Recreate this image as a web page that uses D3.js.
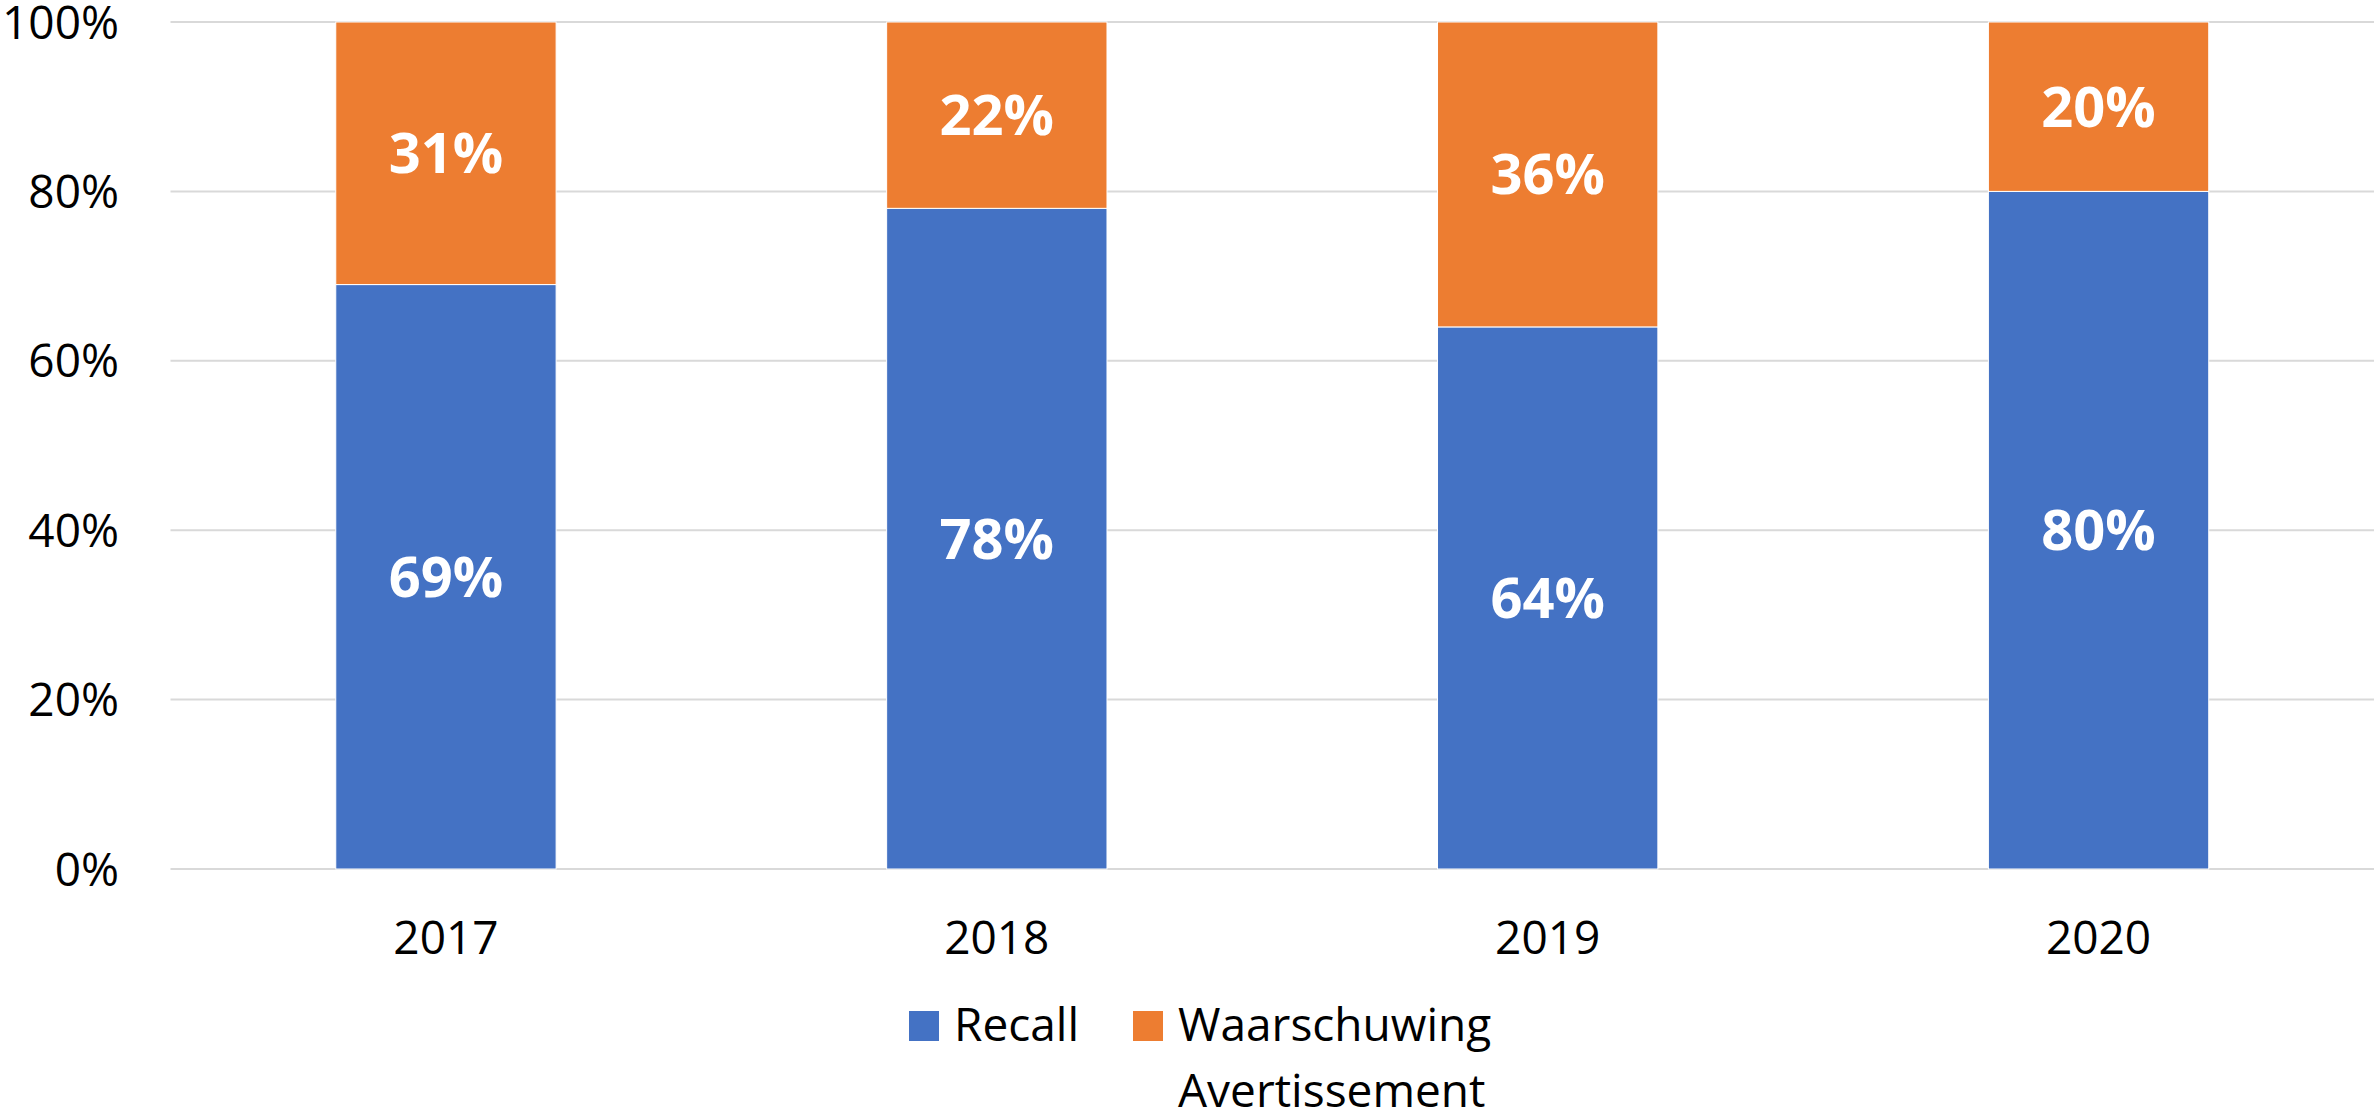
<!DOCTYPE html>
<html>
<head>
<meta charset="utf-8">
<script src="https://cdn.jsdelivr.net/npm/d3@7"></script>
<style>
  body { margin: 0; background: #fff; }
  svg text { font-family: "Open Sans", "Noto Sans", sans-serif; }
</style>
</head>
<body>
<svg id="chart" width="2374" height="1111"></svg>
<script>
// chart data
const years = ["2017", "2018", "2019", "2020"]
const recall = [69, 78, 64, 80]
const waarschuwing = [31, 22, 36, 20]
const yTicks = [0, 20, 40, 60, 80, 100]
const seriesNames = ["Recall", "Waarschuwing"]
const legendLabels = [["Recall"], ["Waarschuwing", "Avertissement"]]
const colors = ["#4472C4", "#ED7D31"]

const width = 2374
const height = 1111
const plotLeft = 170.5
const plotRight = 2374
const plotTop = 22
const plotBottom = 869

const svg = d3.select("#chart")

const x = d3.scaleBand()
    .domain(years)
    .range([plotLeft, plotRight])
    .paddingInner(0.6)
    .paddingOuter(0.3)

const y = d3.scaleLinear()
    .domain([0, 100])
    .range([plotBottom, plotTop])

// gridlines
svg.append("g")
    .selectAll("line")
    .data(yTicks)
    .enter().append("line")
    .attr("x1", plotLeft)
    .attr("x2", plotRight)
    .attr("y1", d => y(d))
    .attr("y2", d => y(d))
    .attr("stroke", "#d9d9d9")
    .attr("stroke-width", 2)

// y axis labels
svg.append("g")
    .selectAll("text")
    .data(yTicks)
    .enter().append("text")
    .attr("x", 119)
    .attr("y", d => y(d) + 16.5)
    .attr("text-anchor", "end")
    .attr("font-size", 46)
    .attr("fill", "#000")
    .text(d => d + "%")

// stack the two series
const rows = years.map((yr, i) => ({year: yr, Recall: recall[i], Waarschuwing: waarschuwing[i]}))
const stacked = d3.stack().keys(seriesNames)(rows)

const layers = svg.append("g")
    .selectAll("g")
    .data(stacked)
    .enter().append("g")
    .attr("fill", (d, i) => colors[i])

layers.selectAll("rect")
    .data(d => d)
    .enter().append("rect")
    .attr("x", d => x(d.data.year))
    .attr("width", x.bandwidth())
    .attr("y", d => y(d[1]))
    .attr("height", d => y(d[0]) - y(d[1]))
    .attr("stroke", "#fff")
    .attr("stroke-width", 1)

// value labels inside the segments
layers.selectAll("text")
    .data(d => d)
    .enter().append("text")
    .attr("x", d => x(d.data.year) + x.bandwidth() / 2)
    .attr("y", d => y((d[0] + d[1]) / 2) + 20)
    .attr("text-anchor", "middle")
    .attr("font-size", 56)
    .attr("font-weight", "bold")
    .attr("fill", "#fff")
    .text(d => Math.round(d[1] - d[0]) + "%")

// x axis labels
svg.append("g")
    .selectAll("text")
    .data(years)
    .enter().append("text")
    .attr("x", d => x(d) + x.bandwidth() / 2)
    .attr("y", 954)
    .attr("text-anchor", "middle")
    .attr("font-size", 46)
    .attr("fill", "#000")
    .text(d => d)

// legend
const legendX = [909, 1133]
const legend = svg.append("g")
    .selectAll("g")
    .data(seriesNames)
    .enter().append("g")
    .attr("transform", (d, i) => `translate(${legendX[i]},0)`)

legend.append("rect")
    .attr("x", 0)
    .attr("y", 1011)
    .attr("width", 30)
    .attr("height", 30)
    .attr("fill", (d, i) => colors[i])

legend.append("text")
    .attr("font-size", 46)
    .attr("fill", "#000")
    .each(function(d, i) {
        d3.select(this).selectAll("tspan")
            .data(legendLabels[i])
            .enter().append("tspan")
            .attr("x", 45)
            .attr("y", (t, j) => 1041 + j * 66)
            .text(t => t)
    })
</script>
</body>
</html>
